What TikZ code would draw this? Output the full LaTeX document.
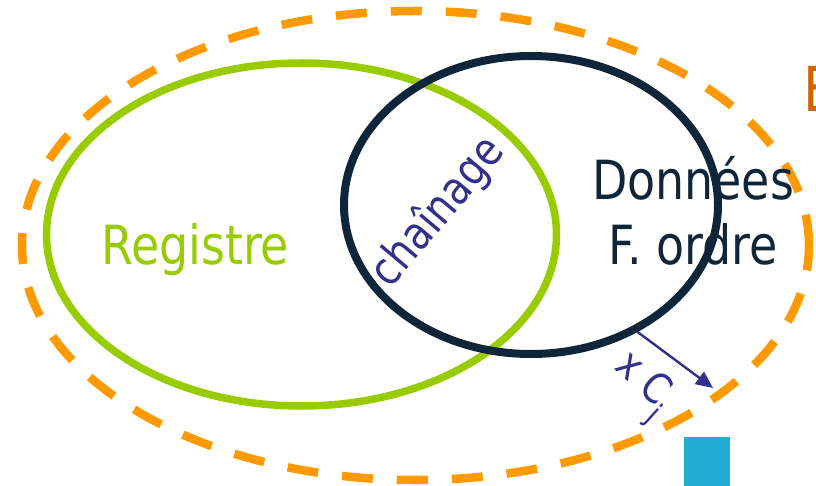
\documentclass[tikz,border=0pt]{standalone}
\usepackage{fontspec}
\setmainfont[FakeStretch=0.85]{DejaVu Sans}
\usetikzlibrary{shapes.geometric,arrows.meta}
\definecolor{orangeD}{HTML}{FF9900}
\definecolor{greenR}{HTML}{99CC00}
\definecolor{navyD}{HTML}{0F263A}
\definecolor{indigoC}{HTML}{33308C}
\definecolor{blueSq}{HTML}{20ADD1}
\definecolor{brownE}{HTML}{CC6600}
\tikzset{
  ell/.style={shape=ellipse, inner sep=0pt},
  lbl/.style={inner sep=0pt},
  arr/.style={draw=indigoC, line width=2.4pt, -{Triangle[length=17pt,width=15pt]}},
}
\begin{document}
\begin{tikzpicture}[x=1pt,y=-1pt]
\useasboundingbox (0,0) rectangle (816,486);
% outer dashed ellipse
\node[ell, draw=orangeD, line width=8.5pt, dash pattern=on 31pt off 24pt,
      minimum width=787pt, minimum height=469pt] (outer) at (415.5,245.5) {};
% green ellipse
\node[ell, draw=greenR, line width=7.5pt, minimum width=510pt, minimum height=343pt] (reg) at (301.5,234.5) {};
% navy ellipse
\node[ell, draw=navyD, line width=8pt, minimum width=374pt, minimum height=298pt] (don) at (531,205) {};
% texts
\node[lbl, anchor=base west, text=greenR, font=\fontsize{54}{60}\selectfont] (tReg) at (101,265) {Registre};
\node[lbl, anchor=base, text=navyD, font=\fontsize{54}{60}\selectfont] (tDon1) at (693,200) {Données};
\node[lbl, anchor=base, text=navyD, font=\fontsize{54}{60}\selectfont] (tDon2) at (693,265) {F. ordre};
\node[lbl, rotate=50, text=indigoC, font=\fontsize{46}{50}\selectfont] (tCh) at (438,212) {chaînage};
% arrow
\coordinate (tip) at (713,388);
\draw[arr] (don.-50) -- (tip);
\node[lbl, rotate=-42, text=indigoC, font=\fontsize{42}{46}\selectfont] (tCj) at (640,387)
  {x C\raisebox{-0.4em}{\fontsize{31}{34}\selectfont j}};
% blue square
\node[fill=blueSq, minimum width=46pt, minimum height=55pt, inner sep=0pt, anchor=north west] (sq) at (684,437) {};
% partial E
\node[lbl, anchor=base west, text=brownE, font=\fontsize{62}{70}\selectfont] (tE) at (803,112) {E};
\end{tikzpicture}
\end{document}
